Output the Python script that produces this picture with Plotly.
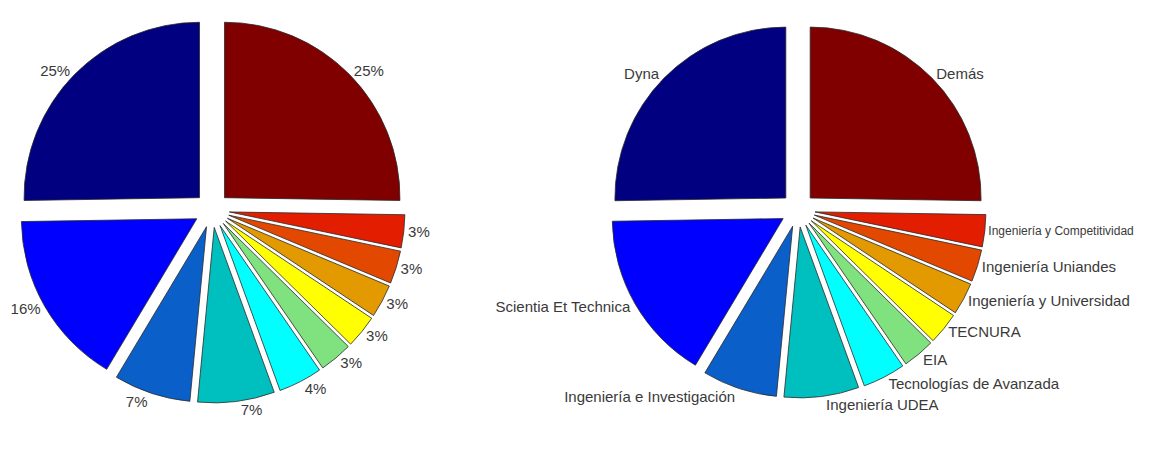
import plotly.graph_objects as go

# Data (counterclockwise from 12 o'clock, MATLAB pie order)
journals = [
    "Dyna",
    "Scientia Et Technica",
    "Ingeniería e Investigación",
    "Ingeniería UDEA",
    "Tecnologías de Avanzada",
    "EIA",
    "TECNURA",
    "Ingeniería y Universidad",
    "Ingeniería Uniandes",
    "Ingeniería y Competitividad",
    "Demás",
]
percent_values = [25, 16, 7, 7, 4, 3, 3, 3, 3, 3, 25]

slice_colors = [
    "#000080", "#0000FF", "#0A5FC8", "#00BFBF", "#00FFFF", "#80E27E",
    "#FFFF00", "#E39A00", "#E34800", "#E31E00", "#800000",
]
label_sizes = [15, 15, 15, 15, 15, 15, 15, 15, 15, 12, 15]

W, H = 1162, 450
PAGE_OFFSET = 8            # default page margin around the figure


def box(cx, cy, half):
    cx -= PAGE_OFFSET
    cy -= PAGE_OFFSET
    return dict(
        x=[(cx - half) / W, (cx + half) / W],
        y=[1 - (cy + half) / H, 1 - (cy - half) / H],
    )


# first slice starts at 12 o'clock and runs counterclockwise (as MATLAB pie)
start_rotation = -360.0 * percent_values[0] / sum(percent_values)

FONT = "Liberation Sans, Arial, sans-serif"
common = dict(
    values=percent_values,
    labels=journals,
    sort=False,
    direction="counterclockwise",
    rotation=start_rotation,
    pull=[0.1] * len(percent_values),
    textposition="outside",
    automargin=False,
    marker=dict(colors=slice_colors, line=dict(color="#2a2a2a", width=0.8)),
    showlegend=False,
    hoverinfo="label+value",
)

fig = go.Figure()
fig.add_trace(go.Pie(
    texttemplate="%{value}%",
    textfont=dict(family=FONT, size=15, color="#3a3a3a"),
    domain=box(212, 210, 193),
    **common,
))
fig.add_trace(go.Pie(
    texttemplate="%{label}",
    textfont=dict(family=FONT, size=label_sizes, color="#3a3a3a"),
    domain=box(798, 210, 188),
    **common,
))

fig.update_layout(
    width=W, height=H,
    autosize=False,
    margin=dict(l=0, r=0, t=0, b=0, autoexpand=False),
    paper_bgcolor="white",
    plot_bgcolor="white",
    font=dict(family=FONT, color="#3a3a3a"),
)

fig.write_html("out.html")
